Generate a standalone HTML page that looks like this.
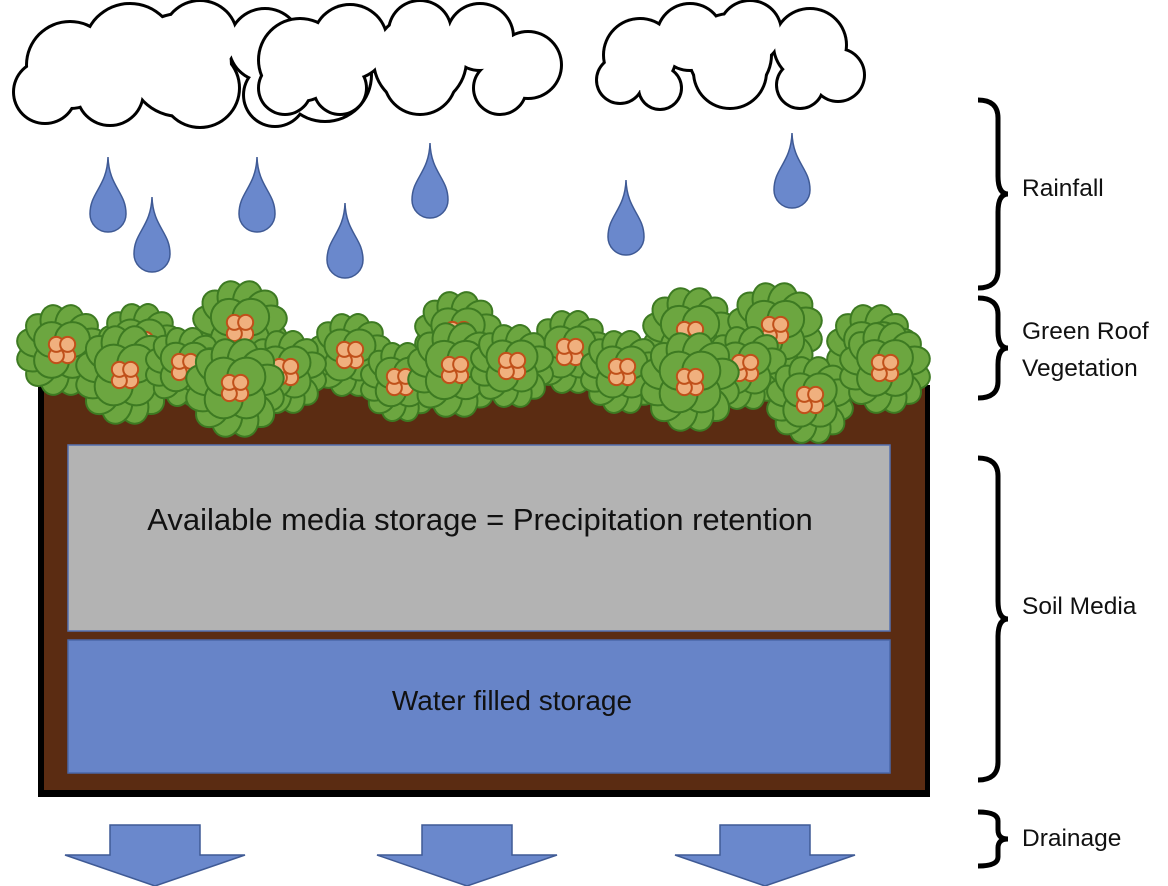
<!DOCTYPE html>
<html><head><meta charset="utf-8"><style>
body{margin:0;background:#fff}
svg{display:block}
text{font-family:"Liberation Sans",sans-serif;fill:#111}
</style></head><body>
<svg id="s" width="1168" height="886" viewBox="0 0 1168 886">
<g id="clouds"></g>
<g id="drops"></g>
<g>
<rect x="38" y="385" width="892" height="412" fill="#000"/>
<rect x="44" y="385" width="881" height="405" fill="#5b2c12"/>
<rect x="68" y="445" width="822" height="186" fill="#b3b3b3" stroke="#5570b0" stroke-width="1.5"/>
<text x="480" y="530" font-size="31" text-anchor="middle">Available media storage = Precipitation retention</text>
<rect x="68" y="640" width="822" height="133" fill="#6784c8" stroke="#4a66a8" stroke-width="1.5"/>
<text x="512" y="710" font-size="28" text-anchor="middle">Water filled storage</text>
</g>
<g id="plants"></g>
<g id="arrows"></g>
<g id="braces" fill="none" stroke="#000" stroke-width="5"></g>
<text x="1022" y="196" font-size="24.5">Rainfall</text>
<text x="1022" y="339" font-size="24.5">Green Roof</text>
<text x="1022" y="376" font-size="24.5">Vegetation</text>
<text x="1022" y="614" font-size="24.5">Soil Media</text>
<text x="1022" y="846" font-size="24.5">Drainage</text>
</svg>
<script>
const NS="http://www.w3.org/2000/svg";
function mk(p,t,a){const e=document.createElementNS(NS,t);for(const k in a)e.setAttribute(k,a[k]);p.appendChild(e);return e;}
const clouds=[
 [[70,65,42],[45,92,30],[130,50,45],[200,38,36],[265,45,35],[325,75,45],[200,88,38],[110,92,32],[275,95,30],[180,65,50]],
 [[300,60,40],[285,88,25],[350,42,36],[420,32,30],[480,37,32],[528,65,32],[420,78,35],[340,88,25],[500,88,25],[420,60,45]],
 [[640,55,35],[620,80,22],[690,37,32],[750,32,30],[810,45,35],[838,75,25],[730,72,35],[660,88,20],[800,85,22],[730,55,40]]
];
const cg=document.getElementById('clouds');
clouds.forEach((c,i)=>{const g=mk(cg,'g',{});


c.forEach(([x,y,r])=>mk(g,'circle',{cx:x,cy:y,r:r+3,fill:'#000'}));
c.forEach(([x,y,r])=>mk(g,'circle',{cx:x,cy:y,r:r,fill:'#fff'}));});
const drops=[[108,232],[152,272],[257,232],[345,278],[430,218],[626,255],[792,208]];
const dg=document.getElementById('drops');
drops.forEach(([x,y],i)=>{const p=mk(dg,'path',{d:`M${x} ${y-75} C${x+1} ${y-45} ${x+18} ${y-40} ${x+18} ${y-18} A18 18 0 0 1 ${x-18} ${y-18} C${x-18} ${y-40} ${x-1} ${y-45} ${x} ${y-75}Z`,fill:'#6a88cc',stroke:'#3f5a95','stroke-width':1.5});

});
const plants=[[62,350,46],[240,328,48],[140,345,42],[350,355,42],[458,335,44],[570,352,42],[690,335,48],[775,330,48],[872,350,46],
[125,375,50],[185,367,40],[285,372,42],[400,382,40],[455,370,48],[512,366,42],[622,372,42],[745,368,42],[690,382,50],[810,400,44],[885,368,46],[235,388,50]];
const pg=document.getElementById('plants');
plants.forEach(([x,y,R])=>{const g=mk(pg,'g',{});


for(let k=0;k<12;k++){const a=k*Math.PI/6+0.26;mk(g,'ellipse',{cx:x+Math.cos(a)*R*0.62,cy:y+Math.sin(a)*R*0.62,rx:R*0.38,ry:R*0.3,transform:`rotate(${a*180/Math.PI} ${x+Math.cos(a)*R*0.62} ${y+Math.sin(a)*R*0.62})`,fill:'#6ca640',stroke:'#3d7a22','stroke-width':2});}
for(let k=0;k<4;k++){const a=k*Math.PI/2+Math.PI/4;mk(g,'circle',{cx:x+Math.cos(a)*R*0.32,cy:y+Math.sin(a)*R*0.32,r:R*0.38,fill:'#6ca640',stroke:'#3d7a22','stroke-width':2});}
for(let k=0;k<4;k++){const a=k*Math.PI/2+Math.PI/4;mk(g,'circle',{cx:x+Math.cos(a)*8,cy:y+Math.sin(a)*8,r:7.5,fill:'#f0b07e',stroke:'#c0501a','stroke-width':2});}});
const arrows=[155,467,765];
const ag=document.getElementById('arrows');
arrows.forEach(c=>{const p=mk(ag,'path',{d:`M${c-45} 825 H${c+45} V855 H${c+90} L${c} 886 L${c-90} 855 H${c-45}Z`,fill:'#6a88cc',stroke:'#3f5a95','stroke-width':1.5});

});
const braces=[[100,288],[298,398],[458,780],[812,866]];
const bg=document.getElementById('braces');
braces.forEach(([a,b])=>{const m=(a+b)/2,x=978,r=Math.min(18,(b-a)/6);
const p=mk(bg,'path',{d:`M${x} ${a} Q${x+20} ${a} ${x+20} ${a+r} V${m-r} Q${x+20} ${m} ${x+30} ${m} Q${x+20} ${m} ${x+20} ${m+r} V${b-r} Q${x+20} ${b} ${x} ${b}`});

});
</script>
</body></html>
